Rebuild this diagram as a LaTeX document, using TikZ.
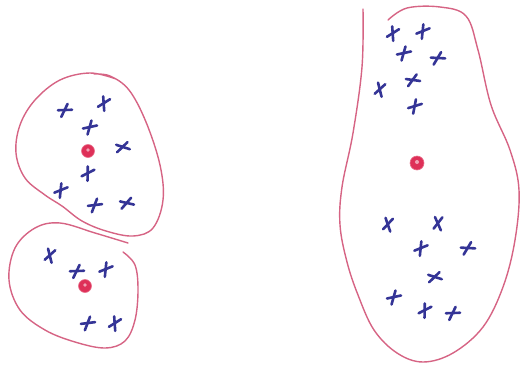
\documentclass[tikz,border=0pt]{standalone}
\usepackage{xcolor}
\usepackage{tikz}
\definecolor{blobpink}{RGB}{214,100,132}
\definecolor{inkblue}{RGB}{52,52,150}
\definecolor{dotred}{RGB}{222,48,88}

\begin{document}
\begin{tikzpicture}[
    x=1pt, y=-1pt,
    blob/.style={draw=blobpink, line width=1.4pt, line cap=round, line join=round},
    crossline/.style={draw=inkblue, line width=2.6pt, line cap=round},
    center/.style={fill=dotred, draw=dotred!70, line width=0.6pt},
    xcross/.pic={
      \draw[crossline] (-7,1.5) -- (7,-1.5);
      \draw[crossline] (1.5,-6.5) -- (-2.5,7.5);
    },
  ]
  \useasboundingbox (0,0) rectangle (522,367);

  % Left, upper cluster
  \draw[blob] plot[smooth, tension=0.6] coordinates {
    (116,79) (90,73) (60,80) (35,100) (20,125) (16,153) (25,178) (45,195)
    (62,206) (82,221) (106,231) (133,236) (153,228) (163,200) (160,165)
    (146,122) (129,90) (110,76) (94,74)};
  \foreach \x/\y/\a in {65/110/-10, 104/103/20, 90/127/0, 123/147/-30,
                        88/173/15, 61/190/10, 95/205/-5, 127/203/-25}
    \pic[rotate=\a] at (\x,\y) {xcross};
  \fill[center] (88,151) circle (6.5);
  \fill[white!55!dotred] (88,150) circle (1.8);

  % Left, lower cluster
  \draw[blob] plot[smooth, tension=0.6] coordinates {
    (128,243) (95,233) (60,223) (35,228) (15,248) (9,280) (20,310) (45,330)
    (75,342) (105,348) (125,341) (135,320) (138,290) (135,265) (123,252)};
  \foreach \x/\y/\a in {50/255/30, 77/271/-10, 106/269/10, 88/323/-5, 115/323/20}
    \pic[rotate=\a] at (\x,\y) {xcross};
  \fill[center] (85,286) circle (6.5);
  \fill[white!55!dotred] (85,285) circle (1.8);

  % Right cluster
  \draw[blob] plot[smooth, tension=0.6] coordinates {
    (363,9) (362,67) (353,133) (342,187) (340,225) (347,262) (358,295)
    (374,330) (397,353) (423,362) (453,353) (483,327) (503,287) (515,240)
    (519,190) (510,150) (491,105) (478,50) (466,16) (440,7) (407,8) (388,20)};
  \foreach \x/\y/\a in {393/33/20, 423/31/10, 404/53/0, 438/58/-15,
                        380/89/30, 413/80/-20, 415/106/5,
                        388/224/35, 438/223/40, 421/248/10, 468/248/-15,
                        435/277/-30, 394/297/0, 425/310/15, 453/313/-10}
    \pic[rotate=\a] at (\x,\y) {xcross};
  \fill[center] (417,163) circle (7);
  \fill[white!55!dotred] (417,162) circle (2);
\end{tikzpicture}
\end{document}
